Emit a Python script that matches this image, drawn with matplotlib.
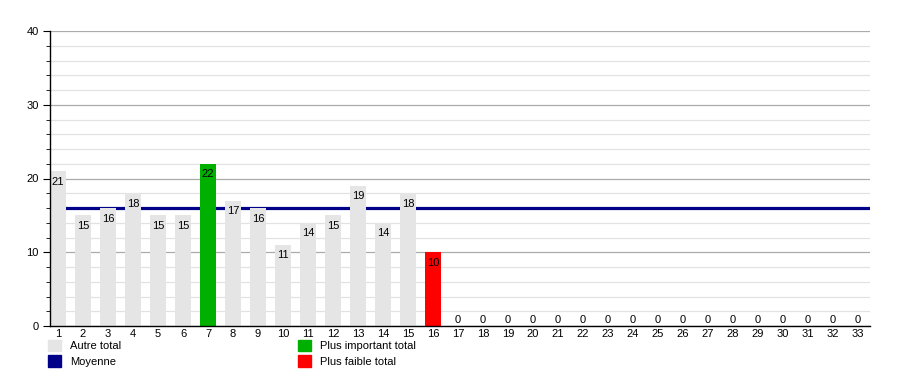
import numpy as np
import matplotlib
matplotlib.use('Agg')
import matplotlib.pyplot as plt
from matplotlib.patches import Patch

plt.rcParams['font.family'] = ['Liberation Sans', 'DejaVu Sans']

categories = [str(i) for i in range(1, 34)]
totals = [21, 15, 16, 18, 15, 15, 22, 17, 16, 11, 14, 15, 19, 14, 18, 10,
          0, 0, 0, 0, 0, 0, 0, 0, 0, 0, 0, 0, 0, 0, 0, 0, 0]
moyenne = 16

grey = '#e5e5e5'
green = '#00b000'
red = '#ff0000'
navy = '#000088'

played = [v for v in totals[:16]]
i_max = int(np.argmax(played))
i_min = int(np.argmin(played))
colors = []
for i, v in enumerate(totals):
    if i == i_max:
        colors.append(green)
    elif i == i_min:
        colors.append(red)
    else:
        colors.append(grey)

fig = plt.figure(figsize=(9, 3.75), dpi=100)
ax = fig.add_axes([50 / 900, 1 - 326 / 375, 820 / 900, 295 / 375])

x = np.arange(1, len(categories) + 1)
ax.set_xlim(0.68, 33.48)
ax.set_ylim(0, 40)

# grid
ax.set_yticks(np.arange(0, 41, 10))
ax.set_yticks(np.arange(0, 41, 2), minor=True)
ax.grid(True, which='minor', axis='y', color='#e2e2e2', linewidth=0.9, zorder=0)
ax.grid(True, which='major', axis='y', color='#ababab', linewidth=0.9, zorder=0)
ax.set_axisbelow(True)

ax.axhline(moyenne, color=navy, linewidth=2.3, zorder=1)
ax.bar(x, totals, width=0.64, color=colors, zorder=2)

for xi, v in zip(x, totals):
    if v > 0:
        ax.annotate(str(v), (xi, v), xytext=(0, -4), textcoords='offset points',
                    ha='center', va='top', fontsize=8, zorder=3)
    else:
        ax.annotate(str(v), (xi, v), xytext=(0, 0.5), textcoords='offset points',
                    ha='center', va='bottom', fontsize=8, zorder=3)

ax.set_xticks(x)
ax.set_xticklabels(categories, fontsize=8)
ax.tick_params(axis='x', length=0, pad=2.5)
ax.tick_params(axis='y', which='major', length=5, labelsize=8, pad=3)
ax.tick_params(axis='y', which='minor', length=3)
for s in ('top', 'right'):
    ax.spines[s].set_visible(False)
ax.spines['left'].set_linewidth(1)
ax.spines['bottom'].set_linewidth(1)

leg_kw = dict(loc='upper left', frameon=False, fontsize=8, handlelength=1.2,
              handleheight=1.2, handletextpad=0.8, labelspacing=0.35,
              borderpad=0.0, borderaxespad=0.0)
fig.legend(handles=[Patch(color=grey, label='Autre total'),
                    Patch(color=navy, label='Moyenne')],
           bbox_to_anchor=(48 / 900, 1 - 340 / 375), **leg_kw)
fig.legend(handles=[Patch(color=green, label='Plus important total'),
                    Patch(color=red, label='Plus faible total')],
           bbox_to_anchor=(298 / 900, 1 - 340 / 375), **leg_kw)

fig.savefig('out.png', dpi=100)
